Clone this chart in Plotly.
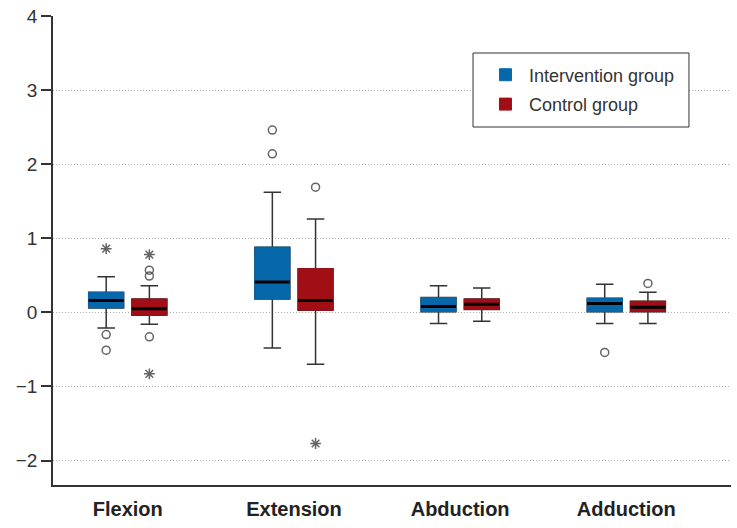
import plotly.graph_objects as go

categories = ["Flexion", "Extension", "Abduction", "Adduction"]

# Intervention group box statistics
int_lower = [-0.21, -0.48, -0.15, -0.15]
int_q1 = [0.06, 0.18, 0.01, 0.01]
int_median = [0.16, 0.41, 0.08, 0.12]
int_q3 = [0.27, 0.88, 0.20, 0.19]
int_upper = [0.48, 1.62, 0.36, 0.38]

# Control group box statistics
ctl_lower = [-0.16, -0.70, -0.12, -0.15]
ctl_q1 = [-0.04, 0.03, 0.04, 0.01]
ctl_median = [0.05, 0.16, 0.11, 0.07]
ctl_q3 = [0.18, 0.59, 0.18, 0.15]
ctl_upper = [0.36, 1.26, 0.33, 0.27]

# Outliers (o = outlier circle, * = extreme value)
int_out_cat = ["Flexion", "Flexion", "Flexion", "Extension", "Extension", "Adduction"]
int_out_val = [-0.30, -0.51, 0.86, 2.46, 2.14, -0.54]
int_out_kind = ["o", "o", "*", "o", "o", "o"]

ctl_out_cat = ["Flexion", "Flexion", "Flexion", "Flexion", "Flexion", "Extension", "Extension", "Adduction"]
ctl_out_val = [0.57, 0.49, -0.33, 0.78, -0.83, 1.69, -1.77, 0.39]
ctl_out_kind = ["o", "o", "o", "*", "*", "o", "*", "o"]

groups = [
    ("Intervention group", "int", "#0767AB", int_lower, int_q1, int_median, int_q3, int_upper,
     int_out_cat, int_out_val, int_out_kind),
    ("Control group", "ctl", "#A20E16", ctl_lower, ctl_q1, ctl_median, ctl_q3, ctl_upper,
     ctl_out_cat, ctl_out_val, ctl_out_kind),
]

fig = go.Figure()
box_traces = []
scatter_traces = []
for name, key, color, lo, q1, med, q3, up, ocat, oval, okind in groups:
    # whiskers (dark gray)
    box_traces.append(go.Box(
        x=categories, q1=q1, median=med, q3=q3, lowerfence=lo, upperfence=up,
        name=name, offsetgroup=key, alignmentgroup="a", showlegend=False,
        fillcolor=color, line=dict(color="#333333", width=1.5), whiskerwidth=0.5,
        hoverinfo="skip"))
    # box body without dark outline
    box_traces.append(go.Box(
        x=categories, q1=q1, median=med, q3=q3, lowerfence=q1, upperfence=q3,
        name=name, offsetgroup=key, alignmentgroup="a", showlegend=True,
        legendgroup=key, fillcolor=color, line=dict(color=color, width=1),
        whiskerwidth=0, hoverinfo="skip"))
    # median line (black, thick)
    box_traces.append(go.Box(
        x=categories, q1=med, median=med, q3=med, lowerfence=med, upperfence=med,
        name=name, offsetgroup=key, alignmentgroup="a", showlegend=False,
        fillcolor="black", line=dict(color="black", width=3),
        whiskerwidth=0, hoverinfo="skip"))
    symbols = ["circle-open" if k == "o" else "asterisk-open" for k in okind]
    sizes = [8 if k == "o" else 9 for k in okind]
    scatter_traces.append(go.Scatter(
        x=ocat, y=oval, mode="markers", offsetgroup=key, alignmentgroup="a",
        showlegend=False, hoverinfo="skip",
        marker=dict(symbol=symbols, size=sizes, color="#222222",
                    line=dict(color="#222222", width=1.5))))

for t in box_traces + scatter_traces:
    fig.add_trace(t)

fig.update_layout(
    width=737, height=528,
    margin=dict(l=53, r=6, t=16, b=43, autoexpand=False),
    paper_bgcolor="white", plot_bgcolor="white",
    boxmode="group", boxgap=0.48, boxgroupgap=0.19,
    scattermode="group", scattergap=0.48,
    font=dict(family="Liberation Sans, Arial, sans-serif", color="#333333"),
    legend=dict(x=0.6327, y=0.9136, xanchor="left", yanchor="top",
                borderwidth=0, bgcolor="rgba(0,0,0,0)",
                font=dict(size=18, color="#333333"), tracegroupgap=3,
                itemwidth=37),
    shapes=[dict(type="rect", xref="paper", yref="paper",
                 x0=0.6195, x1=0.938, y0=0.7633, y1=0.9211,
                 line=dict(color="#333333", width=1), fillcolor="white",
                 layer="above")],
    xaxis=dict(type="category", range=[-0.45, 3.63], showline=True, automargin=False,
               linecolor="#333333", linewidth=1.5, ticks="", showgrid=False,
               ticklabelstandoff=5,
               tickfont=dict(size=20, color="#222222",
                             family="Liberation Sans, Arial, sans-serif"),
               tickprefix="<b>", ticksuffix="</b>"),
    yaxis=dict(range=[-2.33, 4.0], dtick=1, tick0=0, showline=True, automargin=False,
               linecolor="#333333", linewidth=1.5, ticks="outside", ticklen=10,
               tickwidth=1.5, tickcolor="#333333", showgrid=True,
               gridcolor="#aaaaaa", griddash="1px,2px", gridwidth=1, zeroline=False,
               tickfont=dict(size=19, color="#333333")),
)

fig.write_html("out.html", post_script="document.body.style.margin='0';",
               config={"displayModeBar": False})
